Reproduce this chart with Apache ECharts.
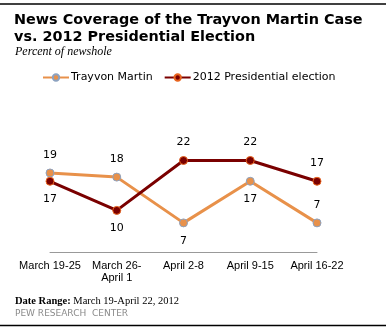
<!DOCTYPE html>
<html><head><meta charset="utf-8">
<script src="https://cdn.jsdelivr.net/npm/echarts@6/dist/echarts.min.js"></script>
<style>html,body{margin:0;padding:0;background:#fff}#c{width:390px;height:330px}</style>
</head><body><div id="c"></div>
<script>
const categories = ['March 19-25', 'March 26-\nApril 1', 'April 2-8', 'April 9-15', 'April 16-22'];
const trayvon = [19, 18, 7, 17, 7];
const election = [17, 10, 22, 22, 17];
const trayvonLabelPos = ['top', 'top', 'bottom', 'bottom', 'top'];
const electionLabelPos = ['bottom', 'bottom', 'top', 'top', 'top'];

const chart = echarts.init(document.getElementById('c'), null, {renderer: 'canvas'});
const lblStyle = {show: true, fontFamily: 'DejaVu Sans', fontSize: 11, color: '#000', distance: 8};
function mk(vals, pos) {
  return vals.map((v, i) => ({value: v, label: Object.assign({}, lblStyle, {position: pos[i]})}));
}
chart.setOption({
  animation: false,
  title: [
    {text: 'News Coverage of the Trayvon Martin Case\nvs. 2012 Presidential Election', left: 9, top: 7,
     textStyle: {fontFamily: 'DejaVu Sans', fontWeight: 'bold', fontSize: 14.4, lineHeight: 17, color: '#000'}},
    {text: 'Percent of newshole', left: 10, top: 41,
     textStyle: {fontFamily: 'Liberation Serif', fontStyle: 'italic', fontWeight: 'normal', fontSize: 12, color: '#000'}},
    {text: '{b|Date Range:} March 19-April 22, 2012', left: 10, top: 291,
     textStyle: {fontFamily: 'Liberation Serif', fontWeight: 'normal', fontSize: 10.5, color: '#000',
       rich: {b: {fontFamily: 'Liberation Serif', fontWeight: 'bold', fontSize: 10.5, color: '#000'}}}},
    {text: 'PEW RESEARCH  CENTER', left: 10, top: 304,
     textStyle: {fontFamily: 'DejaVu Sans', fontWeight: 'normal', fontSize: 9, color: '#8a8a8a'}}
  ],
  graphic: [
    {type: 'line', shape: {x1: 0, y1: 4, x2: 386, y2: 4}, style: {stroke: '#000', lineWidth: 1.5}},
    {type: 'line', shape: {x1: 0, y1: 325.5, x2: 386, y2: 325.5}, style: {stroke: '#000', lineWidth: 1.5}}
  ],
  legend: {
    top: 67, left: 37, itemWidth: 26, itemHeight: 8, itemGap: 11,
    textStyle: {fontFamily: 'DejaVu Sans', fontSize: 11, color: '#000', padding: [0, 0, 0, -3]},
    data: ['Trayvon Martin', '2012 Presidential election']
  },
  grid: {left: 50, right: 73, top: 148, bottom: 78, containLabel: false},
  xAxis: {
    type: 'category', data: categories, boundaryGap: false,
    axisLine: {lineStyle: {color: '#999', width: 1}},
    axisTick: {show: false},
    axisLabel: {fontFamily: 'Liberation Sans', fontSize: 11, color: '#000', margin: 8, lineHeight: 12, interval: 0}
  },
  yAxis: {type: 'value', min: 0, max: 25, show: false, splitLine: {show: false}},
  series: [
    {name: 'Trayvon Martin', type: 'line', data: mk(trayvon, trayvonLabelPos), symbol: 'circle', symbolSize: 8,
     lineStyle: {color: '#E8914A', width: 3},
     itemStyle: {color: '#E8914A', borderColor: '#8CA2C0', borderWidth: 1}},
    {name: '2012 Presidential election', type: 'line', data: mk(election, electionLabelPos), symbol: 'circle', symbolSize: 8,
     lineStyle: {color: '#7A0000', width: 3},
     itemStyle: {color: '#7A0000', borderColor: '#E8641E', borderWidth: 1}}
  ]
});
</script></body></html>
